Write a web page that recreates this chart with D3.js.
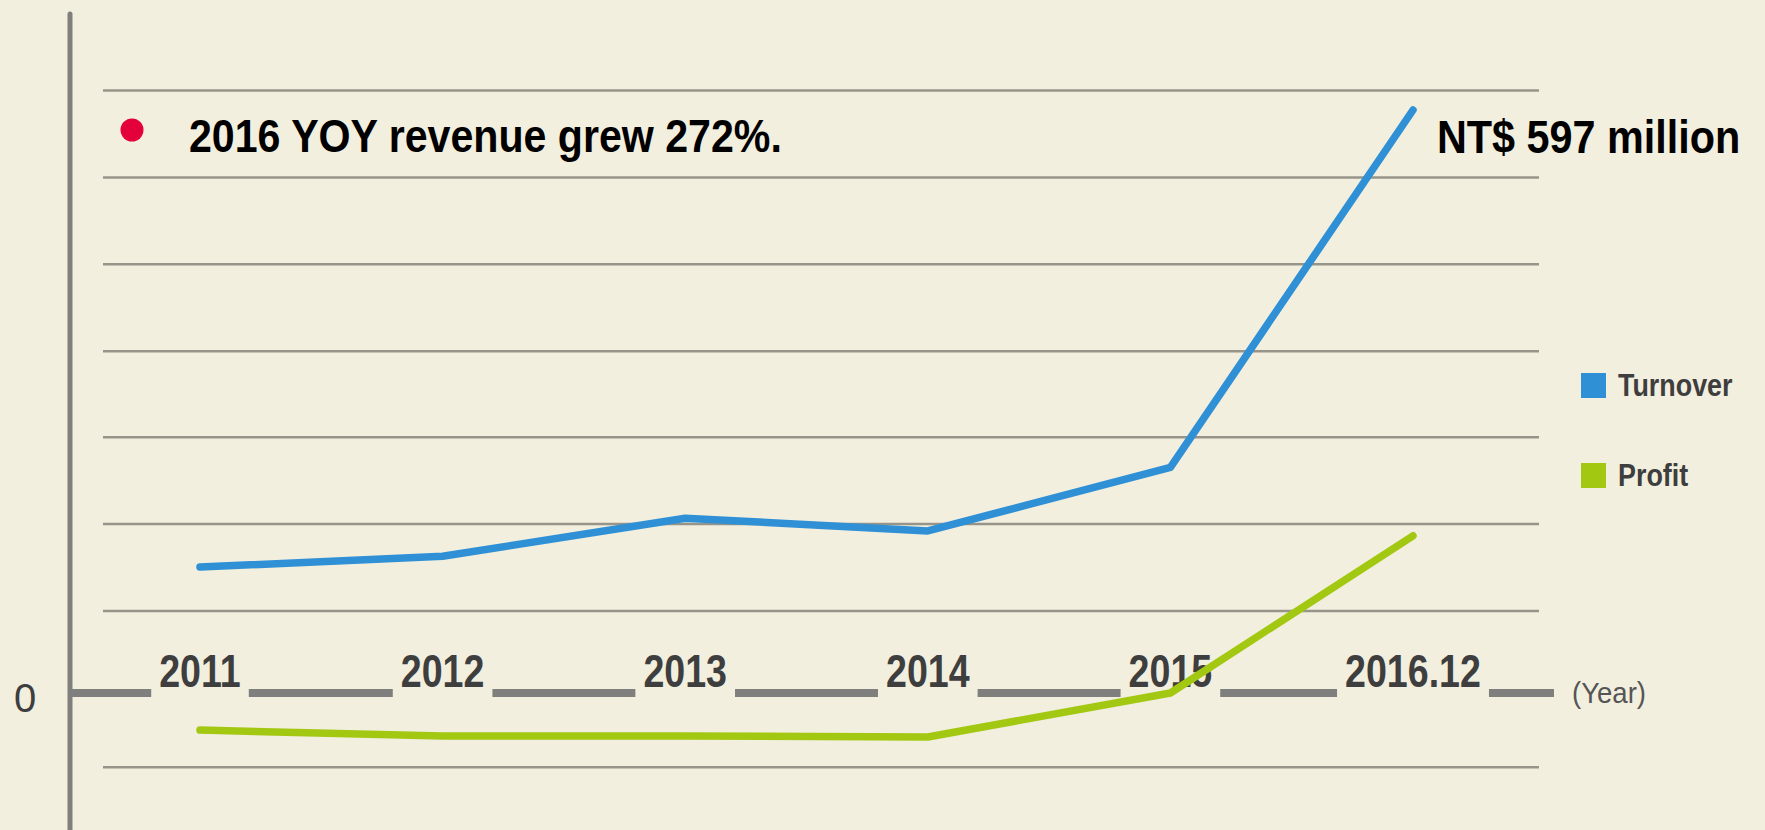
<!DOCTYPE html>
<html>
<head>
<meta charset="utf-8">
<script src="https://cdn.jsdelivr.net/npm/d3@7"></script>
<style>
  html, body { margin: 0; padding: 0; background: #f2efdf; }
  svg { display: block; }
</style>
</head>
<body>
<svg id="chart" width="1765" height="830"></svg>
<script>
// ---- data ----
const categories = ["2011", "2012", "2013", "2014", "2015", "2016.12"];
const turnover = [129, 140, 179, 166, 231, 597];
const profit = [-38, -44, -44, -45, 0, 161];
const gridValues = [617, 528, 439, 350, 262, 173, 84, -76];
const seriesNames = ["Turnover", "Profit"];
const annotation = "2016 YOY revenue grew 272%.";
const endLabel = "NT$ 597 million";
const zeroLabel = "0";
const unitLabel = "(Year)";

// ---- setup ----
const svg = d3.select("#chart");
const W = 1765, H = 830;
svg.append("rect").attr("width", W).attr("height", H).attr("fill", "#f2efdf");

const x = d3.scalePoint().domain(categories).range([200, 1413]);
const y = d3.scaleLinear().domain([0, 597]).range([693, 110]);

const colors = { Turnover: "#2f90d6", Profit: "#a3c812" };
const gridColor = "#97948a";
const axisColor = "#7f7f7d";
const labelColor = "#3e3e3e";
const sans = "'Liberation Sans', Arial, sans-serif";

// squeeze text horizontally to emulate a condensed face
function squeeze(sel, f) {
  sel.each(function() {
    const w = this.getComputedTextLength();
    d3.select(this).attr("textLength", w * f).attr("lengthAdjust", "spacingAndGlyphs");
  });
}

// gridlines
svg.append("g").selectAll("line").data(gridValues).join("line")
  .attr("x1", 103).attr("x2", 1539)
  .attr("y1", d => y(d)).attr("y2", d => y(d))
  .attr("stroke", gridColor).attr("stroke-width", 2.5);

// vertical axis
svg.append("line")
  .attr("x1", 70).attr("x2", 70).attr("y1", 14).attr("y2", 835)
  .attr("stroke", axisColor).attr("stroke-width", 5).attr("stroke-linecap", "round");

// year labels on zero line
const labG = svg.append("g");
const labels = labG.selectAll("text").data(categories).join("text")
  .attr("x", d => x(d)).attr("y", y(0) - 6)
  .attr("text-anchor", "middle")
  .attr("font-family", sans).attr("font-weight", "bold")
  .attr("font-size", 47).attr("fill", labelColor)
  .text(d => d);
squeeze(labels, 0.8);

// zero line dashes, broken around labels
const pad = 8;
const boxes = [];
labels.each(function(d) {
  const w = +d3.select(this).attr("textLength");
  boxes.push([x(d) - w / 2 - pad, x(d) + w / 2 + pad]);
});
const segs = [];
let start = 70;
boxes.forEach(b => { segs.push([start, b[0]]); start = b[1]; });
segs.push([start, 1554]);
svg.insert("g", () => labG.node()).selectAll("line").data(segs).join("line")
  .attr("x1", d => d[0]).attr("x2", d => d[1])
  .attr("y1", y(0)).attr("y2", y(0))
  .attr("stroke", axisColor).attr("stroke-width", 8);

// zero label
svg.append("text").attr("x", 25).attr("y", y(0) + 19)
  .attr("text-anchor", "middle")
  .attr("font-family", sans)
  .attr("font-size", 40).attr("fill", labelColor).text(zeroLabel);

// unit label
const ut = svg.append("text").attr("x", 1572).attr("y", y(0) + 10)
  .attr("font-family", sans)
  .attr("font-size", 29).attr("fill", "#555555").text(unitLabel);
squeeze(ut, 0.95);

// lines
const line = d3.line().x((d, i) => x(categories[i])).y(d => y(d));
[["Turnover", turnover], ["Profit", profit]].forEach(([name, vals]) => {
  svg.append("path").datum(vals)
    .attr("d", line)
    .attr("fill", "none")
    .attr("stroke", colors[name])
    .attr("stroke-width", 7.5)
    .attr("stroke-linejoin", "round")
    .attr("stroke-linecap", "round");
});

// legend
const leg = svg.append("g").selectAll("g").data(seriesNames).join("g")
  .attr("transform", (d, i) => `translate(1581, ${373 + i * 90})`);
leg.append("rect").attr("width", 25).attr("height", 25)
  .attr("fill", d => colors[d]);
const legText = leg.append("text").attr("x", 37).attr("y", 23)
  .attr("font-family", sans).attr("font-weight", "bold")
  .attr("font-size", 32).attr("fill", labelColor)
  .text(d => d);
squeeze(legText, 0.84);

// annotation
svg.append("circle").attr("cx", 132).attr("cy", 130).attr("r", 11.5).attr("fill", "#e4003a");
svg.append("g").attr("transform", "translate(189,152) scale(0.875,1)")
  .append("text")
  .attr("font-family", sans).attr("font-weight", "bold")
  .attr("font-size", 47).attr("fill", "#000")
  .text(annotation);

// end label
svg.append("g").attr("transform", "translate(1437,153) scale(0.88,1)")
  .append("text")
  .attr("font-family", sans).attr("font-weight", "bold")
  .attr("font-size", 47).attr("fill", "#000")
  .text(endLabel);
</script>
</body>
</html>
